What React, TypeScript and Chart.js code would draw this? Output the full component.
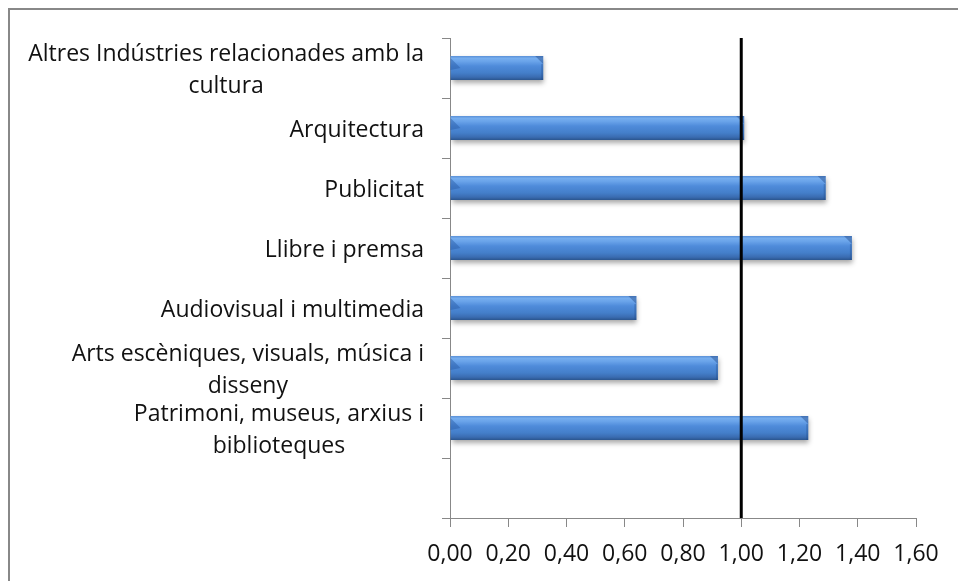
import React, { useEffect, useRef } from 'react';
import { Chart, registerables } from 'chart.js';

Chart.register(...registerables);

// ---- data ----
const categories: string[][] = [
  ['Altres Indústries relacionades amb la', 'cultura'],
  ['Arquitectura'],
  ['Publicitat'],
  ['Llibre i premsa'],
  ['Audiovisual i multimedia'],
  ['Arts escèniques, visuals, música i', 'disseny'],
  ['Patrimoni, museus, arxius i', 'biblioteques'],
  [''],
];
const values: (number | null)[] = [0.32, 1.01, 1.29, 1.38, 0.64, 0.92, 1.23, null];
const xMin = 0;
const xMax = 1.6;
const xStep = 0.2;
const referenceValue = 1.0;

// ---- style ----
const FONT_FAMILY = '"Open Sans", sans-serif';
const FONT_SIZE = 23;
const LINE_HEIGHT = 32;
const AXIS_COLOR = '#888888';
const BAR_FRACTION = 0.4;

const fmt = (v: number) => Number(v).toFixed(2).replace('.', ',');

const barGradient = (c: any) => {
  const chart = c.chart;
  const y = chart.scales && chart.scales.y;
  if (!y || !chart.chartArea || c.dataIndex == null) return '#4a86d0';
  const yc = y.getPixelForValue(c.dataIndex);
  const h = (y.height / categories.length) * BAR_FRACTION;
  const g = chart.ctx.createLinearGradient(0, yc - h / 2, 0, yc + h / 2);
  g.addColorStop(0, '#5a90d8');
  g.addColorStop(0.1, '#77aeee');
  g.addColorStop(0.22, '#6aa4ea');
  g.addColorStop(0.42, '#4f8bda');
  g.addColorStop(0.7, '#447fca');
  g.addColorStop(0.88, '#3a6cb1');
  g.addColorStop(1, '#2a558e');
  return g;
};

const decorPlugin = {
  id: 'decor',
  beforeDatasetsDraw(chart: any) {
    const ctx = chart.ctx;
    ctx.save();
    ctx.shadowColor = 'rgba(0,0,0,0.35)';
    ctx.shadowBlur = 5;
    ctx.shadowOffsetX = 1;
    ctx.shadowOffsetY = 3;
  },
  afterDatasetsDraw(chart: any) {
    const ctx = chart.ctx;
    ctx.restore();
    // bevel ends
    const meta = chart.getDatasetMeta(0);
    meta.data.forEach((bar: any, i: number) => {
      if (values[i] == null) return;
      const p = bar.getProps(['x', 'y', 'base', 'height'], true);
      const top = p.y - p.height / 2;
      const bottom = p.y + p.height / 2;
      const right = p.x;
      const left = p.base;
      const b = 8;
      ctx.save();
      ctx.fillStyle = 'rgba(35,75,140,0.45)';
      ctx.beginPath();
      ctx.moveTo(right - b, top);
      ctx.lineTo(right, top);
      ctx.lineTo(right, top + b);
      ctx.closePath();
      ctx.fill();
      ctx.fillStyle = 'rgba(30,70,130,0.3)';
      ctx.fillRect(right - 2, top + b, 2, bottom - top - b);
      ctx.fillStyle = 'rgba(40,90,165,0.45)';
      ctx.beginPath();
      ctx.moveTo(left, top + 2);
      ctx.lineTo(left + b + 2, top + b + 4);
      ctx.lineTo(left, top + b + 6);
      ctx.closePath();
      ctx.fill();
      ctx.restore();
    });
    // reference line
    const x = chart.scales.x.getPixelForValue(referenceValue);
    const { top, bottom } = chart.chartArea;
    ctx.save();
    ctx.strokeStyle = '#000';
    ctx.lineWidth = 3;
    ctx.beginPath();
    ctx.moveTo(x, top);
    ctx.lineTo(x, bottom);
    ctx.stroke();
    ctx.restore();
  },
  afterDraw(chart: any) {
    const { ctx, chartArea } = chart;
    const y = chart.scales.y;
    ctx.save();
    ctx.font = `${FONT_SIZE}px ${FONT_FAMILY}`;
    ctx.fillStyle = '#111';
    ctx.textBaseline = 'middle';
    ctx.textAlign = 'center';
    const right = chartArea.left - 26;
    categories.forEach((lines, i) => {
      const yc = y.getPixelForValue(i) + 2;
      const w = Math.max(...lines.map((l) => ctx.measureText(l).width));
      const cx = right - w / 2;
      lines.forEach((l, j) => {
        ctx.fillText(l, cx, yc + (j - (lines.length - 1) / 2) * LINE_HEIGHT);
      });
    });
    ctx.restore();
  },
};

export default function App() {
  const ref = useRef<HTMLCanvasElement>(null);
  useEffect(() => {
    if (!ref.current) return;
    const chart = new Chart(ref.current, {
      type: 'bar',
      data: {
        labels: categories,
        datasets: [
          {
            data: values as any,
            backgroundColor: barGradient,
            borderWidth: 0,
            barPercentage: BAR_FRACTION,
            categoryPercentage: 1,
          },
        ],
      },
      options: {
        animation: false,
        responsive: false,
        indexAxis: 'y',
        layout: { padding: { top: 28, right: 42, bottom: 0, left: 0 } },
        plugins: { legend: { display: false }, tooltip: { enabled: false } },
        scales: {
          x: {
            min: xMin,
            max: xMax,
            ticks: {
              stepSize: xStep,
              callback: (v: any) => fmt(v),
              font: { family: FONT_FAMILY, size: FONT_SIZE },
              color: '#111',
              padding: 14,
              maxRotation: 0,
              autoSkip: false,
            },
            grid: { drawOnChartArea: false, drawTicks: true, tickLength: 9, color: AXIS_COLOR },
            border: { color: AXIS_COLOR, width: 1 },
            afterFit: (s: any) => {
              s.height = 63;
            },
          },
          y: {
            ticks: { display: false },
            grid: { drawOnChartArea: false, drawTicks: true, tickLength: 8, color: AXIS_COLOR, offset: true },
            border: { color: AXIS_COLOR, width: 1 },
            afterFit: (s: any) => {
              s.width = 440;
            },
          },
        },
      } as any,
      plugins: [decorPlugin],
    });
    return () => chart.destroy();
  }, []);

  return (
    <div
      style={{
        position: 'fixed',
        left: 8,
        top: 8,
        width: 948,
        height: 571,
        borderTop: '2px solid #888',
        borderLeft: '2px solid #888',
        background: '#fff',
      }}
    >
      <canvas ref={ref} width={948} height={571} style={{ display: 'block' }} />
    </div>
  );
}
